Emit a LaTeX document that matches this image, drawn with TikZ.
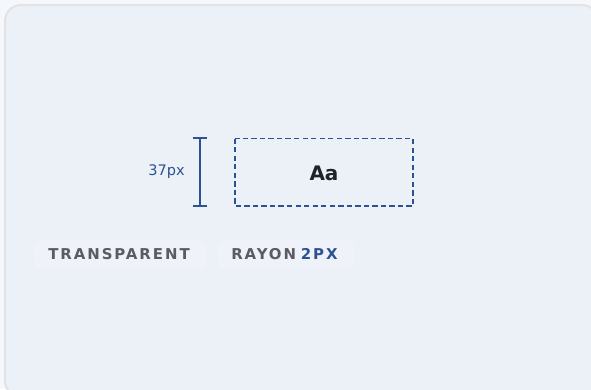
\documentclass[tikz,border=0pt]{standalone}
\usepackage{fontspec}
\setmainfont{DejaVu Sans}
\newfontfamily\spacedfont[LetterSpace=13]{DejaVu Sans}
\definecolor{pagebg}{HTML}{F6F7FA}
\definecolor{cardbg}{HTML}{ECF0F7}
\definecolor{cardline}{HTML}{DFE3EA}
\definecolor{pillbg}{HTML}{EFF2F8}
\definecolor{accent}{HTML}{2B5394}
\definecolor{labgray}{HTML}{5A5B66}
\definecolor{ink}{HTML}{1F2328}
\tikzset{
  card/.style={draw=cardline, line width=1.5pt, fill=cardbg, rounded corners=12pt},
  dashbox/.style={draw=accent, line width=1pt, dash pattern=on 4pt off 2.4pt},
  dimline/.style={draw=accent, line width=1.5pt},
  caps/.style={font=\spacedfont\bfseries\fontsize{11.2}{13}\selectfont, text=labgray, inner sep=0pt},
}
\begin{document}
\begin{tikzpicture}[x=0.75pt,y=-0.75pt]
\fill[pagebg] (0,0) rectangle (591,389);
\useasboundingbox (0,0) rectangle (591,389);
\draw[card] (5,5) rectangle (598,397);
% pills
\fill[pillbg, rounded corners=5pt] (34,240) rectangle (207,269);
\fill[pillbg, rounded corners=5pt] (218,240) rectangle (355,269);
% dimension bar
\coordinate (dt) at (200,138);
\coordinate (db) at (200,206);
\draw[dimline] (dt) -- (db);
\draw[dimline] (193,138) -- (207,138);
\draw[dimline] (193,206) -- (207,206);
\node[anchor=east, text=accent, font=\fontsize{10.9}{12}\selectfont, inner sep=0pt] (dimlab) at (185,172) {37px};
% dashed box
\draw[dashbox] (235,138.5) rectangle (413,206);
\node[font=\bfseries\fontsize{15}{17}\selectfont, text=ink] (aa) at (324,173) {Aa};
% labels
\node[caps, anchor=west] (tr) at (48,254.5) {TRANSPARENT};
\node[caps, anchor=west] (ry) at (231,254.5) {RAYON\hspace{3.5pt}\textcolor{accent}{2PX}};
\end{tikzpicture}
\end{document}
